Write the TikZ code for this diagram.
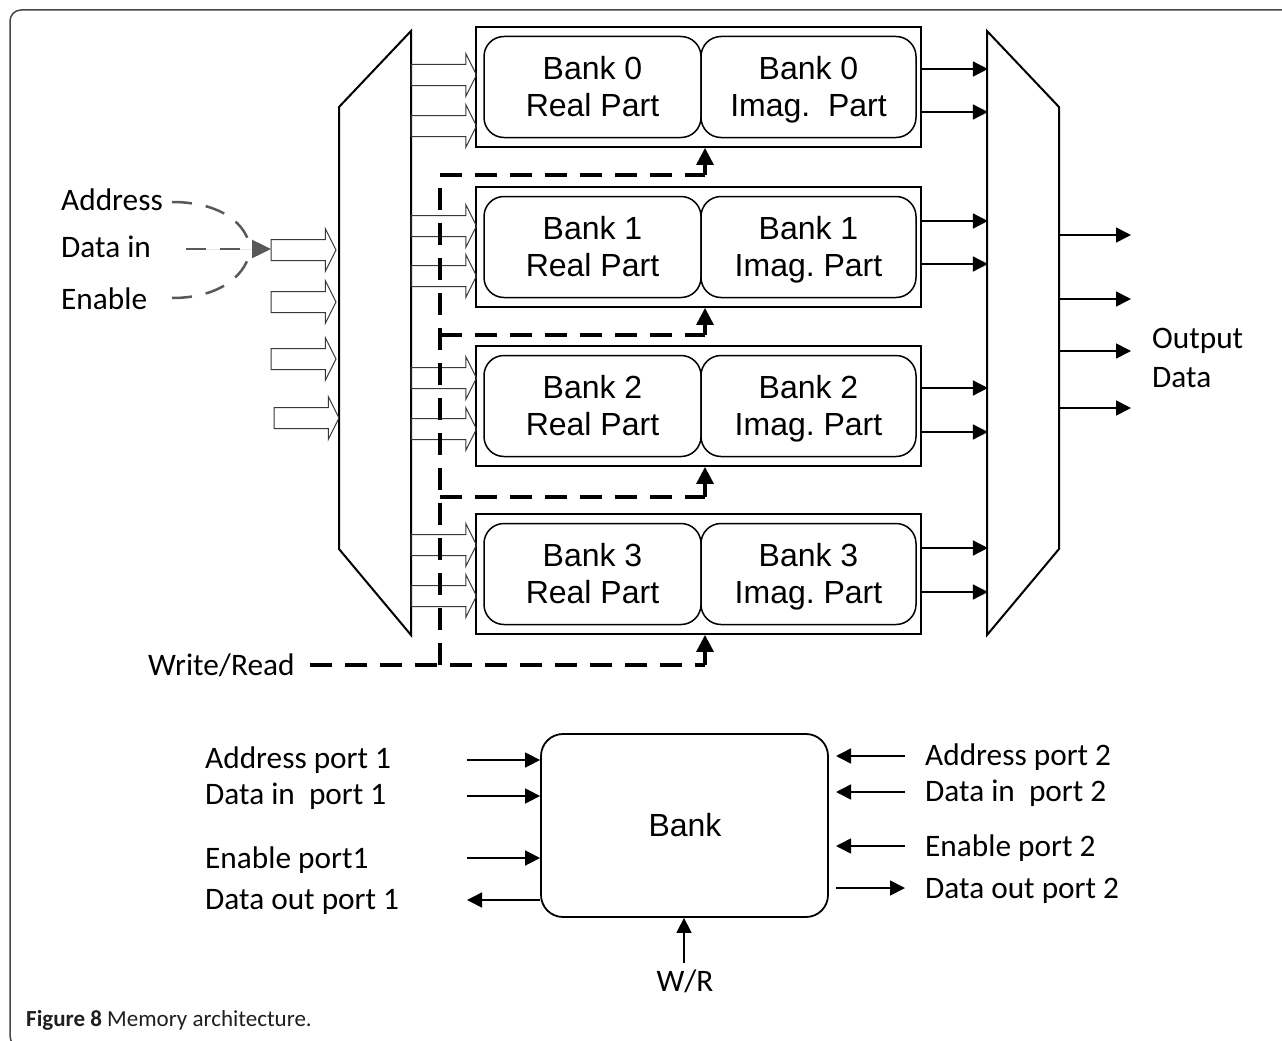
\documentclass[tikz,border=0pt]{standalone}
\usepackage{fontspec}
\setmainfont{Liberation Sans}
\newfontfamily\calib{Carlito}
\usetikzlibrary{arrows.meta}
\frenchspacing

\newcommand\banktext{\fontsize{32}{38}\selectfont}
\newcommand\labeltext{\calib\fontsize{31.3}{37}\selectfont}

% hollow block arrow: tail x, tip x, centre y
\newcommand\blockarrow[3]{%
  \draw[blk] (#1,#3-10.5) -- (#2-10.7,#3-10.5) -- (#2-10.7,#3-21.5) -- (#2,#3)
    -- (#2-10.7,#3+21.5) -- (#2-10.7,#3+10.5) -- (#1,#3+10.5) -- cycle;}

\tikzset{
  frame/.style={draw=black!72, line width=1.5pt, rounded corners=11pt},
  mux/.style={draw=black, line width=2pt, line join=miter},
  outerbox/.style={draw=black, line width=1.8pt, minimum width=445pt, minimum height=120pt, inner sep=0pt},
  half/.style={draw=black, line width=1.5pt, rounded corners=20pt, minimum height=101pt, inner sep=0pt},
  btxt/.style={font=\banktext, inner sep=0pt, anchor=base},
  blk/.style={draw=black!78, line width=1pt, line join=miter},
  wr/.style={draw=black, line width=3.2pt, dash pattern=on 22pt off 13pt},
  wrtip/.style={draw=black, line width=3.2pt, -{Triangle[length=17pt,width=17pt]}},
  sel/.style={draw=black!65, line width=2.5pt, dash pattern=on 20pt off 14pt},
  selarrow/.style={-{Triangle[length=19pt,width=18pt]}},
  sig/.style={draw=black, line width=1.6pt, -{Triangle[length=15pt,width=15pt]}},
  lbl/.style={font=\labeltext, inner sep=0pt, anchor=base west},
  ctr/.style={font=\labeltext, inner sep=0pt, anchor=base},
}

\begin{document}
\begin{tikzpicture}[x=1pt,y=-1pt]
\useasboundingbox (0,0) rectangle (1282,1041);
\clip (0,0) rectangle (1282,1041);
\fill[white] (0,0) rectangle (1282,1041);

% figure frame
\draw[frame] (1300,10) -- (10,10) -- (10,1047) -- (1300,1047);

% input demultiplexer and output multiplexer
\draw[mux] (411,31) -- (339,107) -- (339,549) -- (411,635) -- cycle;
\draw[mux] (987,31) -- (1059,107) -- (1059,549) -- (987,635) -- cycle;

% memory banks, each split into a real and an imaginary half
\foreach \i/\cy in {0/87,1/247,2/406,3/574}{
  \node[outerbox] (bank\i) at (698.5,\cy) {};
  \node[half, minimum width=217pt] (re\i) at (592.5,\cy) {};
  \node[half, minimum width=215pt] (im\i) at (808.5,\cy) {};
  \node[btxt] (ret\i) at ([yshift=7.5pt]re\i.center) {Bank \i};
  \node[btxt] (reb\i) at ([yshift=-29.5pt]re\i.center) {Real Part};
  \node[btxt] (imt\i) at ([yshift=7.5pt]im\i.center) {Bank \i};
}
\node[btxt] (imb0) at ([yshift=-29.5pt]im0.center) {Imag.~ Part};
\foreach \i in {1,2,3}{
  \node[btxt] (imb\i) at ([yshift=-29.5pt]im\i.center) {Imag. Part};
}

% bus inputs to the demultiplexer
\blockarrow{271}{336}{250}
\blockarrow{271}{336}{302}
\blockarrow{271}{336}{359}
\blockarrow{274}{339}{418}

% demultiplexer outputs to the banks
\foreach \y in {75,126,226,276,378,429,545,596}{
  \blockarrow{411}{476.5}{\y}
}

% bank outputs to the multiplexer
\foreach \i/\a/\b in {0/18/-25,1/26/-17,2/18/-26,3/26/-18}{
  \draw[sig] ([yshift=\a pt]bank\i.east) -- ++(66,0);
  \draw[sig] ([yshift=\b pt]bank\i.east) -- ++(66,0);
}

% output data
\foreach \y in {235,299,351,408}{
  \draw[sig] (1059,\y) -- (1131,\y);
}
\node[lbl] (outa) at (1152,348) {Output};
\node[lbl] (outb) at (1152,387) {Data};

% input labels
\node[lbl] (adr) at (61,210) {Address};
\node[lbl] (din) at (61,257) {Data in};
\node[lbl] (ena) at (61,309) {Enable};
\coordinate (meet) at (250,249);
\draw[sel] (172,202) .. controls (222,202) and (248,225) .. (meet);
\draw[sel] (172,298) .. controls (222,298) and (248,273) .. (meet);
\draw[sel, selarrow, fill=black!65] (186,249) -- (271,249);

% write/read control
\node[lbl] (wrl) at (148,675) {Write/Read};
\draw[wr] (310,665) -- (705,665);
\draw[wr] (440,665) -- (440,175) -- (705,175);
\draw[wr] (440,335) -- (705,335);
\draw[wr] (440,497) -- (705,497);
\draw[wrtip] (705,175) -- (bank0.south -| 705,0);
\draw[wrtip] (705,335) -- (bank1.south -| 705,0);
\draw[wrtip] (705,497) -- (bank2.south -| 705,0);
\draw[wrtip] (705,665) -- (bank3.south -| 705,0);

% single bank with its ports
\node[draw=black, line width=1.8pt, rounded corners=22pt, minimum width=287pt, minimum height=183pt,
      inner sep=0pt] (bank) at (684.5,825.5) {};
\node[btxt] (banktxt) at (685,836) {Bank};

\node[lbl] (a1) at (205,768) {Address port 1};
\node[lbl] (d1) at (205,804) {Data in~ port 1};
\node[lbl] (e1) at (205,868) {Enable port1};
\node[lbl] (o1) at (205,909) {Data out port 1};
\draw[sig] (467,760) -- (bank.west |- 0,760);
\draw[sig] (467,796) -- (bank.west |- 0,796);
\draw[sig] (467,858) -- (bank.west |- 0,858);
\draw[sig] (bank.west |- 0,900) -- (467,900);

\node[lbl] (a2) at (925,765) {Address port 2};
\node[lbl] (d2) at (925,801) {Data in~ port 2};
\node[lbl] (e2) at (925,856) {Enable port 2};
\node[lbl] (o2) at (925,898) {Data out port 2};
\draw[sig] (905,756) -- (836,756);
\draw[sig] (905,792) -- (836,792);
\draw[sig] (905,846) -- (836,846);
\draw[sig] (836,888) -- (905,888);

\node[ctr] (wr) at (685,991) {W/R};
\draw[sig] (684,963) -- (bank.south -| 684,0);

% caption
\node[inner sep=0pt, anchor=base west, font=\calib\fontsize{23}{27}\selectfont, text=black!88] (cap)
  at (26,1026) {\textbf{Figure 8} Memory architecture.};
\end{tikzpicture}
\end{document}
